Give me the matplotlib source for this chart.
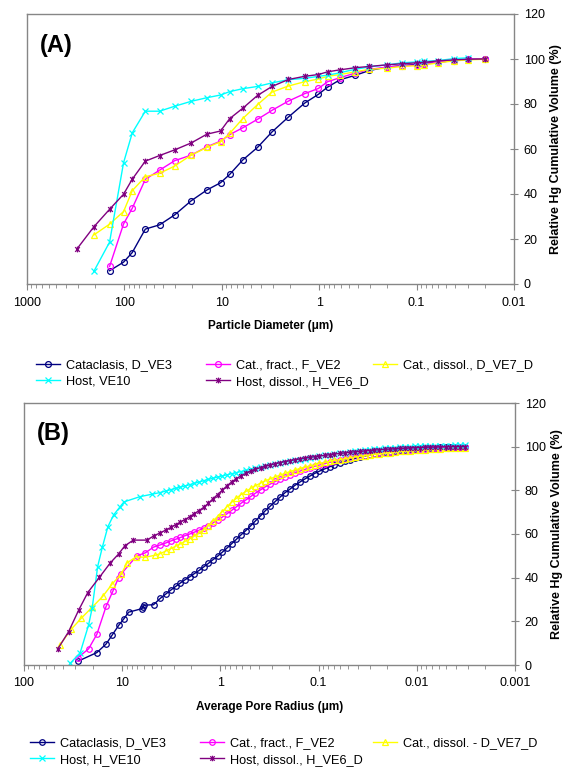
import numpy as np
import matplotlib
matplotlib.use("Agg")
import matplotlib.pyplot as plt
from matplotlib.path import Path
from matplotlib.ticker import FixedLocator, LogLocator, NullFormatter

plt.rcParams['font.family'] = ['Liberation Sans', 'DejaVu Sans']

# ---------------- Panel A data (particle diameter, um) ----------------
diam_A = [308, 206, 142, 102, 83, 61, 43.5, 30.5, 20.6, 14.2, 10.3, 8.3, 6.1, 4.3, 3.05,
          2.07, 1.41, 1.02, 0.82, 0.61, 0.43, 0.305, 0.202, 0.141, 0.100, 0.084, 0.060,
          0.041, 0.030, 0.020]
nan = np.nan
A_cataclasis = [nan, nan, 5.9, 9.7, 14.0, 24.4, 26.3, 30.7, 37.0, 41.8, 45.0, 48.7, 55.1, 60.7, 67.6,
                74.2, 80.4, 84.3, 87.5, 90.8, 92.7, 94.9, 96.4, 97.1, 97.6, 98.0, 98.6, 99.3, 99.8, 100.0]
A_cat_fract = [nan, nan, 7.8, 26.7, 33.7, 46.5, 50.6, 54.8, 57.3, 61.0, 63.5, 66.4, 69.4, 73.2, 77.2,
               81.3, 84.6, 86.9, 89.9, 91.7, 93.7, 95.4, 96.4, 97.0, 97.3, 97.7, 98.6, 99.3, 99.8, 100.0]
A_cat_dissol = [nan, 21.8, 26.6, 32.2, 41.5, 47.7, 49.2, 52.4, 57.3, 60.7, 63.2, 66.9, 73.5, 79.7, 85.3,
                88.0, 89.9, 91.1, 92.3, 93.1, 94.3, 95.4, 95.9, 96.7, 97.0, 97.3, 98.3, 99.2, 99.6, 99.9]
A_host = [nan, 5.6, 18.6, 53.9, 67.2, 76.8, 76.8, 79.0, 81.2, 82.8, 84.0, 85.5, 86.8, 87.8, 89.4,
          90.8, 91.4, 92.3, 92.8, 93.9, 95.4, 96.5, 97.4, 98.3, 98.7, 99.0, 99.3, 100.2, 100.5, nan]
A_host_dissol = [15.5, 25.4, 33.2, 39.9, 46.6, 54.6, 57.1, 59.6, 62.7, 66.6, 68.0, 73.5, 78.1, 83.8, 87.8,
                 90.9, 92.3, 93.1, 94.3, 95.2, 96.1, 96.7, 97.4, 97.9, 98.3, 98.5, 99.2, 99.6, 99.9, 100.0]

# ---------------- Panel B data (average pore radius, um) ----------------
# common dense pressure steps
r_dense = [4.1, 3.6, 3.2, 2.85, 2.55, 2.3, 2.05, 1.85, 1.65, 1.48, 1.33, 1.2, 1.07, 0.96, 0.86,
           0.77, 0.69, 0.62, 0.55, 0.49, 0.44, 0.39, 0.35, 0.31, 0.275, 0.245, 0.22, 0.195, 0.175,
           0.155, 0.138, 0.123, 0.11, 0.098, 0.087, 0.077, 0.069, 0.061, 0.054, 0.048, 0.043, 0.038,
           0.034, 0.030, 0.027, 0.024, 0.021, 0.0187, 0.0166, 0.0148, 0.0131, 0.0117, 0.0104, 0.0092,
           0.0082, 0.0073, 0.0065, 0.0058, 0.0051, 0.0046, 0.0041, 0.0036, 0.0032]

B_cataclasis_r_head = [28.0, 18.1, 14.6, 12.7, 10.8, 9.6, 8.6, 6.3, 6.1, 6.0, 4.8]
B_cataclasis_v_head = [1.8, 5.7, 9.6, 13.6, 18.3, 21.2, 24.2, 25.8, 26.6, 27.4, 27.6]
B_cataclasis_v = [30.5, 32.5, 34.3, 36.0, 37.6, 39.0, 40.4, 41.8, 43.3, 44.9, 46.5, 48.1, 49.8, 51.6, 53.5,
                  55.5, 57.5, 59.5, 61.6, 63.8, 66.0, 68.3, 70.6, 72.8, 75.0, 77.0, 78.9, 80.6, 82.2,
                  83.8, 85.2, 86.5, 87.7, 88.8, 89.8, 90.8, 91.7, 92.5, 93.3, 94.0, 94.6, 95.2,
                  95.7, 96.2, 96.6, 97.0, 97.4, 97.7, 98.0, 98.3, 98.5, 98.8, 99.0, 99.2,
                  99.3, 99.5, 99.6, 99.7, 99.8, 99.9, 99.9, 100.0, 100.0]

B_cat_fract_r_head = [28.5, 22.0, 18.1, 14.6, 12.4, 10.9, 10.2, 7.1, 5.8, 4.8]
B_cat_fract_v_head = [3.2, 7.4, 14.1, 26.8, 34.0, 40.0, 41.8, 50.0, 51.4, 54.0]
B_cat_fract_v = [55.0, 55.9, 56.8, 57.6, 58.4, 59.2, 60.0, 60.8, 61.7, 62.7, 63.8, 65.0, 66.3, 67.7, 69.2,
                 70.8, 72.4, 74.0, 75.6, 77.2, 78.7, 80.2, 81.6, 82.9, 84.1, 85.2, 86.2, 87.1, 88.0,
                 88.8, 89.6, 90.3, 91.0, 91.6, 92.2, 92.8, 93.3, 93.8, 94.3, 94.7, 95.1, 95.5,
                 95.9, 96.3, 96.6, 96.9, 97.2, 97.5, 97.7, 98.0, 98.2, 98.4, 98.6, 98.8,
                 99.0, 99.1, 99.3, 99.4, 99.5, 99.6, 99.7, 99.8, 99.9]

B_cat_dissol_r_head = [43.0, 33.0, 26.0, 20.3, 15.8, 12.7, 10.2, 8.9, 7.2, 5.9, 4.6]
B_cat_dissol_v_head = [9.2, 16.4, 21.5, 26.4, 31.4, 37.0, 41.8, 46.8, 49.6, 49.3, 50.3]
B_cat_dissol_v = [51.0, 52.2, 53.3, 54.4, 55.5, 56.6, 57.8, 59.0, 60.4, 62.0, 63.8, 65.8, 68.0, 70.2, 72.4,
                  74.5, 76.3, 78.0, 79.5, 80.9, 82.1, 83.3, 84.3, 85.3, 86.2, 87.0, 87.8, 88.6, 89.3,
                  90.0, 90.6, 91.2, 91.7, 92.3, 92.8, 93.3, 93.7, 94.1, 94.5, 94.9, 95.3, 95.6,
                  95.9, 96.2, 96.5, 96.8, 97.1, 97.3, 97.6, 97.8, 98.0, 98.2, 98.4, 98.6,
                  98.7, 98.9, 99.0, 99.1, 99.2, 99.3, 99.4, 99.4, 99.5]

B_host_r_head = [33.8, 26.8, 22.0, 20.2, 17.8, 15.9, 14.0, 12.2, 10.5, 9.6, 6.6, 5.0]
B_host_v_head = [0.8, 5.6, 18.3, 26.2, 45.0, 54.1, 63.3, 68.8, 72.5, 74.7, 77.1, 78.2]
B_host_v = [79.0, 79.7, 80.3, 80.9, 81.5, 82.0, 82.6, 83.2, 83.8, 84.4, 85.0, 85.5, 86.1, 86.6, 87.1,
            87.6, 88.1, 88.6, 89.1, 89.6, 90.1, 90.6, 91.1, 91.6, 92.0, 92.5, 92.9, 93.3, 93.7,
            94.1, 94.5, 94.9, 95.3, 95.6, 96.0, 96.3, 96.7, 97.0, 97.3, 97.6, 97.9, 98.2,
            98.4, 98.7, 98.9, 99.1, 99.3, 99.5, 99.6, 99.8, 99.9, 100.0, 100.1, 100.2,
            100.3, 100.4, 100.4, 100.5, 100.5, 100.5, 100.6, 100.6, 100.6]

B_host_dissol_r_head = [45.5, 35.2, 27.7, 22.4, 17.1, 13.2, 10.9, 9.4, 7.7, 5.6, 4.7]
B_host_dissol_v_head = [7.2, 15.2, 25.2, 33.2, 40.1, 46.8, 50.8, 54.6, 57.2, 57.2, 59.3]
B_host_dissol_v = [60.5, 61.8, 63.0, 64.3, 65.5, 66.6, 67.9, 69.3, 70.7, 72.2, 74.0, 76.0, 78.0, 80.0, 82.0,
                   83.8, 85.3, 86.6, 87.8, 88.8, 89.6, 90.4, 91.0, 91.6, 92.2, 92.7, 93.2, 93.6, 94.0,
                   94.4, 94.8, 95.1, 95.4, 95.7, 96.0, 96.3, 96.6, 96.9, 97.1, 97.4, 97.6, 97.8,
                   98.0, 98.2, 98.4, 98.6, 98.8, 98.9, 99.1, 99.2, 99.3, 99.4, 99.5, 99.6,
                   99.7, 99.8, 99.8, 99.9, 99.9, 100.0, 100.0, 100.0, 100.0]

labels_A = ["Cataclasis, D_VE3", "Cat., fract., F_VE2", "Cat., dissol., D_VE7_D",
            "Host, VE10", "Host, dissol., H_VE6_D"]
labels_B = ["Cataclasis, D_VE3", "Cat., fract., F_VE2", "Cat., dissol. - D_VE7_D",
            "Host, H_VE10", "Host, dissol., H_VE6_D"]
xticks_A = [1000, 100, 10, 1, 0.1, 0.01]
xticklabels_A = ["1000", "100", "10", "1", "0.1", "0.01"]
xticks_B = [100, 10, 1, 0.1, 0.01, 0.001]
xticklabels_B = ["100", "10", "1", "0.1", "0.01", "0.001"]
yticks = [0, 20, 40, 60, 80, 100, 120]

# ---------------- styles ----------------
star = Path([(-1, -1), (1, 1), (-1, 1), (1, -1), (0, -1.25), (0, 1.25)],
            [Path.MOVETO, Path.LINETO, Path.MOVETO, Path.LINETO, Path.MOVETO, Path.LINETO])
colors = ['#000080', '#FF00FF', '#FFFF00', '#00FFFF', '#800080']
markers = ['o', 'o', '^', 'x', star]
GRAY = '#868686'

fig = plt.figure(figsize=(5.63, 7.70), dpi=100)
axA = fig.add_axes([27 / 563, 1 - 284 / 770, 487 / 563, 270 / 770])
axB = fig.add_axes([24 / 563, 1 - 665 / 770, 491 / 563, 262 / 770])


def style_axes(ax, xlim, xt, xtl, xlabel, tag):
    ax.set_xscale('log')
    ax.set_xlim(*xlim)
    ax.set_ylim(0, 120)
    ax.xaxis.set_major_locator(FixedLocator(xt))
    ax.set_xticklabels(xtl)
    ax.xaxis.set_minor_locator(LogLocator(base=10, subs=np.arange(2, 10)))
    ax.xaxis.set_minor_formatter(NullFormatter())
    ax.set_yticks(yticks)
    ax.set_yticklabels([str(t) for t in yticks])
    ax.yaxis.tick_right()
    ax.yaxis.set_label_position('right')
    for s in ax.spines.values():
        s.set_color(GRAY)
        s.set_linewidth(1.0)
    ax.tick_params(axis='x', which='major', direction='out', length=4, color=GRAY,
                   labelsize=9, pad=5)
    ax.tick_params(axis='x', which='minor', direction='out', length=3, color=GRAY)
    ax.tick_params(axis='y', which='major', direction='inout', length=6, color=GRAY,
                   labelsize=9, pad=4, right=True, left=False)
    ax.set_xlabel(xlabel, fontsize=8.5, fontweight='bold', labelpad=8)
    ax.set_ylabel("Relative Hg Cumulative Volume (%)", fontsize=9, fontweight='bold',
                  labelpad=4)
    ax.text(0.026, 0.885, tag, transform=ax.transAxes, fontsize=17, fontweight='bold',
            va='center', ha='left')


# Panel A
series_A = [A_cataclasis, A_cat_fract, A_cat_dissol, A_host, A_host_dissol]
handles_A = []
for vals, c, m, lab in zip(series_A, colors, markers, labels_A):
    h, = axA.plot(diam_A, vals, color=c, lw=1.0, marker=m, markersize=4.2,
                  markerfacecolor='none', markeredgecolor=c, markeredgewidth=0.9, label=lab)
    handles_A.append(h)
style_axes(axA, (1000, 0.01), xticks_A, xticklabels_A, "Particle Diameter (μm)", "(A)")

# Panel B
series_B = [
    (B_cataclasis_r_head + r_dense, B_cataclasis_v_head + B_cataclasis_v),
    (B_cat_fract_r_head + r_dense, B_cat_fract_v_head + B_cat_fract_v),
    (B_cat_dissol_r_head + r_dense, B_cat_dissol_v_head + B_cat_dissol_v),
    (B_host_r_head + r_dense, B_host_v_head + B_host_v),
    (B_host_dissol_r_head + r_dense, B_host_dissol_v_head + B_host_dissol_v),
]
handles_B = []
for (rr, vv), c, m, lab in zip(series_B, colors, markers, labels_B):
    h, = axB.plot(rr, vv, color=c, lw=1.0, marker=m, markersize=4.0,
                  markerfacecolor='none', markeredgecolor=c, markeredgewidth=0.9, label=lab)
    handles_B.append(h)
style_axes(axB, (100, 0.001), xticks_B, xticklabels_B, "Average Pore Radius (μm)", "(B)")


def legend_cols(handles, top_px, xs_px):
    cols = [[handles[0], handles[3]], [handles[1], handles[4]], [handles[2]]]
    for col, x in zip(cols, xs_px):
        fig.legend(col, [h.get_label() for h in col], loc='upper left',
                   bbox_to_anchor=(x / 563, 1 - top_px / 770), frameon=False,
                   fontsize=9.2, handlelength=1.9, handletextpad=0.45, labelspacing=0.38,
                   borderpad=0, borderaxespad=0)


legend_cols(handles_A, 359, [36, 206, 373])
legend_cols(handles_B, 737, [30, 200, 373])

fig.savefig("out.png", dpi=100)
